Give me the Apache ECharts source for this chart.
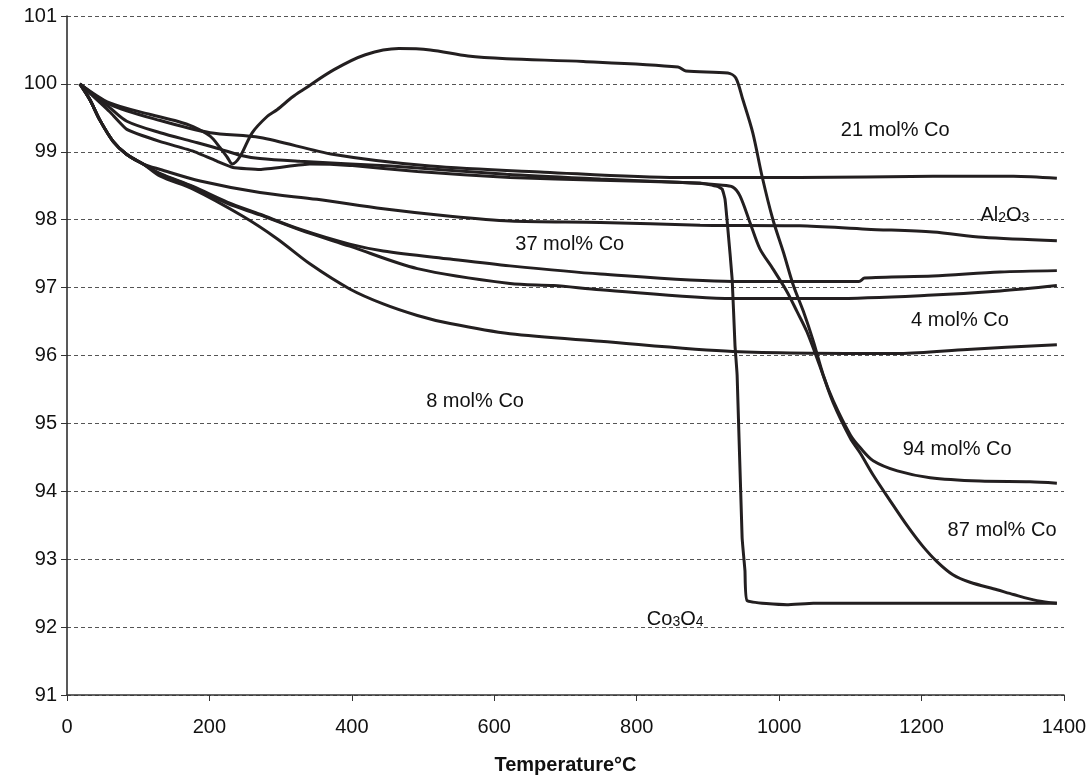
<!DOCTYPE html>
<html>
<head>
<meta charset="utf-8">
<script src="https://cdn.jsdelivr.net/npm/echarts@6/dist/echarts.min.js"></script>
<style>
html,body{margin:0;padding:0;background:#fff;}
#chart{width:1091px;height:780px;}
</style>
</head>
<body>
<div id="chart"></div>
<script>
// Axis ticks
const xTicks = [0, 200, 400, 600, 800, 1000, 1200, 1400];
const yTicks = [91, 92, 93, 94, 95, 96, 97, 98, 99, 100, 101];

// Series: [temperature °C, mass %]
const co21 = [[18,100.00],[60,99.70],[131,99.46],[201,99.28],[271,99.21],[375,98.96],[510,98.79],[670,98.70],[858,98.62],[1029,98.62],[1216,98.64],[1329,98.64],[1390,98.61]];
const al2o3 = [[18,100.00],[32,99.77],[46,99.47],[65,99.15],[84,98.96],[107,98.82],[131,98.74],[187,98.57],[271,98.40],[351,98.30],[444,98.16],[538,98.05],[622,97.98],[749,97.96],[889,97.92],[1029,97.91],[1123,97.86],[1216,97.82],[1286,97.74],[1390,97.69]];
const co37 = [[18,100.00],[32,99.77],[46,99.47],[65,99.15],[84,98.96],[107,98.82],[131,98.68],[177,98.49],[225,98.26],[271,98.08],[327,97.86],[397,97.64],[444,97.54],[538,97.42],[622,97.32],[749,97.20],[935,97.09],[1112,97.09],[1120,97.14],[1216,97.17],[1310,97.23],[1390,97.25]];
const co4 = [[18,100.00],[32,99.77],[46,99.47],[65,99.15],[84,98.96],[107,98.82],[131,98.67],[177,98.48],[225,98.24],[271,98.07],[327,97.85],[397,97.61],[492,97.28],[622,97.06],[683,97.03],[749,96.97],[935,96.84],[1076,96.84],[1216,96.89],[1310,96.95],[1390,97.03]];
const co8 = [[18,100.00],[32,99.77],[46,99.47],[65,99.15],[84,98.96],[107,98.82],[131,98.64],[177,98.45],[247,98.05],[295,97.72],[341,97.35],[397,96.98],[444,96.76],[492,96.59],[538,96.47],[622,96.32],[749,96.21],[935,96.06],[1170,96.03],[1264,96.09],[1390,96.16]];
const co94 = [[18,100.00],[60,99.72],[117,99.55],[155,99.45],[177,99.37],[201,99.23],[215,99.06],[225,98.92],[232,98.82],[243,98.93],[260,99.28],[281,99.52],[295,99.62],[317,99.81],[331,99.91],[375,100.21],[419,100.43],[466,100.52],[510,100.50],[563,100.41],[617,100.37],[725,100.33],[858,100.25],[869,100.19],[928,100.16],[939,100.09],[949,99.77],[963,99.28],[976,98.64],[991,98.01],[1006,97.52],[1020,97.03],[1034,96.65],[1048,96.21],[1062,95.71],[1076,95.33],[1100,94.83],[1114,94.64],[1132,94.45],[1166,94.30],[1212,94.20],[1282,94.15],[1352,94.14],[1390,94.12]];
const co87 = [[18,100.00],[60,99.65],[84,99.45],[131,99.28],[177,99.15],[215,99.04],[243,98.95],[271,98.90],[327,98.86],[455,98.79],[617,98.67],[749,98.60],[858,98.55],[917,98.51],[935,98.48],[945,98.35],[959,97.96],[973,97.57],[991,97.28],[1011,96.94],[1025,96.65],[1039,96.35],[1057,95.85],[1076,95.30],[1100,94.78],[1114,94.56],[1132,94.24],[1156,93.86],[1180,93.49],[1201,93.20],[1222,92.96],[1244,92.77],[1268,92.66],[1306,92.55],[1329,92.48],[1362,92.39],[1390,92.35]];
const co3o4 = [[18,100.00],[60,99.59],[84,99.33],[131,99.15],[177,99.01],[211,98.86],[233,98.77],[271,98.74],[341,98.82],[397,98.80],[492,98.71],[622,98.62],[749,98.58],[889,98.54],[913,98.49],[920,98.45],[924,98.30],[928,97.86],[934,97.13],[938,96.15],[941,95.71],[948,93.32],[952,92.83],[955,92.39],[1011,92.33],[1048,92.35],[1390,92.35]];

const seriesNames = ['21 mol% Co','Al2O3','37 mol% Co','4 mol% Co','8 mol% Co','94 mol% Co','87 mol% Co','Co3O4'];
const seriesData = [co21, al2o3, co37, co4, co8, co94, co87, co3o4];

// Curve annotations: [text, temperature, mass]
const annotations = [
  ['21 mol% Co', 1163, 99.31],
  ['{n|Al}{s|2}{n|O}{s|3}', 1317, 98.11],
  ['37 mol% Co', 706, 97.64],
  ['4 mol% Co', 1254, 96.51],
  ['8 mol% Co', 573, 95.33],
  ['94 mol% Co', 1250, 94.61],
  ['87 mol% Co', 1313, 93.43],
  ['{n|Co}{s|3}{n|O}{s|4}', 854, 92.16]
];

const FONT = '"Liberation Sans", Arial, Helvetica, sans-serif';
const INK = '#231f20';
const TEXT = '#111111';

const chart = echarts.init(document.getElementById('chart'), null, {renderer: 'canvas'});

const lineSeries = seriesData.map((d, i) => ({
  name: seriesNames[i],
  type: 'line',
  data: d,
  showSymbol: false,
  symbol: 'none',
  smooth: seriesNames[i] === 'Co3O4' ? 0.12 : 0.3,
  lineStyle: {color: INK, width: 3},
  z: 3
}));

const option = {
  animation: false,
  backgroundColor: '#ffffff',
  textStyle: {fontFamily: FONT},
  grid: {left: 67, right: 27, top: 16, bottom: 82, containLabel: false},
  xAxis: {
    type: 'value',
    min: xTicks[0],
    max: xTicks[xTicks.length - 1],
    interval: xTicks[1] - xTicks[0],
    name: 'Temperature°C',
    nameLocation: 'middle',
    nameGap: 60,
    nameTextStyle: {fontFamily: FONT, fontWeight: 'bold', fontSize: 20, color: TEXT},
    axisLine: {show: true, onZero: false, lineStyle: {color: '#333', width: 1.5}},
    axisTick: {show: true, length: 6, lineStyle: {color: '#333', width: 1}},
    axisLabel: {fontFamily: FONT, fontSize: 20, color: TEXT, margin: 22, formatter: v => String(v)},
    splitLine: {show: false}
  },
  yAxis: {
    type: 'value',
    min: yTicks[0],
    max: yTicks[yTicks.length - 1],
    interval: yTicks[1] - yTicks[0],
    axisLine: {show: true, lineStyle: {color: '#222', width: 1.5}},
    axisTick: {show: true, length: 6, lineStyle: {color: '#333', width: 1}},
    axisLabel: {fontFamily: FONT, fontSize: 20, color: TEXT, margin: 10, formatter: v => String(v)},
    splitLine: {show: true, lineStyle: {type: [4, 3], color: '#555', width: 1}}
  },
  series: lineSeries.concat([{
    type: 'scatter',
    symbolSize: 0,
    silent: true,
    z: 5,
    itemStyle: {color: TEXT, opacity: 1},
    emphasis: {disabled: true},
    data: annotations.map(a => ({name: a[0], value: [a[1], a[2]]})),
    label: {
      show: true,
      position: 'inside',
      formatter: p => p.name,
      fontFamily: FONT,
      fontSize: 20,
      color: TEXT,
      opacity: 1,
      textBorderWidth: 0,
      rich: {
        n: {fontFamily: FONT, fontSize: 20, color: TEXT, lineHeight: 26, verticalAlign: 'bottom', textBorderWidth: 0},
        s: {fontFamily: FONT, fontSize: 14, color: TEXT, lineHeight: 12, verticalAlign: 'bottom', textBorderWidth: 0}
      }
    }
  }])
};

chart.setOption(option);
</script>
</body>
</html>
